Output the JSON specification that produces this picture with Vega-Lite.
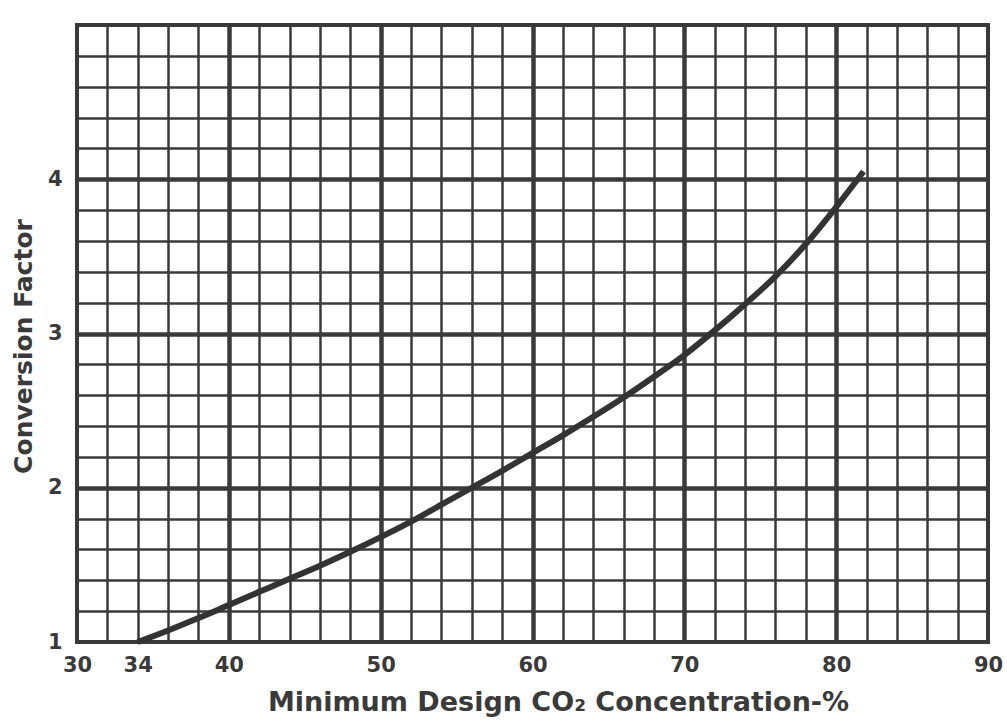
{
  "$schema": "https://vega.github.io/schema/vega-lite/v6.json",
  "width": 911,
  "height": 617,
  "autosize": "none",
  "padding": {"left": 77, "top": 25, "right": 19, "bottom": 80},
  "background": "#ffffff",
  "config": {
    "view": {"stroke": "#3a3a3a", "strokeWidth": 4},
    "axis": {"labelFont": "DejaVu Sans", "titleFont": "DejaVu Sans", "labelColor": "#3a3a3a", "titleColor": "#3a3a3a", "labelOverlap": false, "labelFlush": false, "labelBound": false, "gridColor": "#3a3a3a", "gridOpacity": 1}
  },
  "data": {"values": [
    {"c": 34, "f": 1.0},
    {"c": 36, "f": 1.075},
    {"c": 38, "f": 1.155},
    {"c": 40, "f": 1.24},
    {"c": 42, "f": 1.325},
    {"c": 44, "f": 1.41},
    {"c": 46, "f": 1.495},
    {"c": 48, "f": 1.585},
    {"c": 50, "f": 1.68},
    {"c": 52, "f": 1.78},
    {"c": 54, "f": 1.89},
    {"c": 56, "f": 2.0},
    {"c": 58, "f": 2.11},
    {"c": 60, "f": 2.225},
    {"c": 62, "f": 2.34},
    {"c": 64, "f": 2.46},
    {"c": 66, "f": 2.585},
    {"c": 68, "f": 2.72},
    {"c": 70, "f": 2.86},
    {"c": 72, "f": 3.02},
    {"c": 74, "f": 3.19},
    {"c": 76, "f": 3.37},
    {"c": 78, "f": 3.58},
    {"c": 80, "f": 3.82},
    {"c": 81.8, "f": 4.05}
  ]},
  "layer": [
    {
      "mark": {"type": "line", "opacity": 0},
      "encoding": {
        "x": {"field": "c", "type": "quantitative", "scale": {"domain": [30, 90], "nice": false, "zero": false},
          "axis": {"orient": "bottom", "values": [30,32,34,36,38,40,42,44,46,48,50,52,54,56,58,60,62,64,66,68,70,72,74,76,78,80,82,84,86,88,90],
            "grid": true, "gridWidth": 2.5, "ticks": false, "domain": false,
            "labelExpr": "(datum.value == 34 || datum.value % 10 == 0) ? format(datum.value, 'd') : ''",
            "labelFontSize": 21, "labelFontWeight": "bold", "labelPadding": 12,
            "title": "Minimum Design CO₂ Concentration-%", "titleFontSize": 27, "titleFontWeight": "bold", "titlePadding": 14, "titleX": 481}},
        "y": {"field": "f", "type": "quantitative", "scale": {"domain": [1, 5], "nice": false, "zero": false},
          "axis": {"orient": "left", "values": [1,1.2,1.4,1.6,1.8,2,2.2,2.4,2.6,2.8,3,3.2,3.4,3.6,3.8,4,4.2,4.4,4.6,4.8,5],
            "grid": true, "gridWidth": 2.5, "ticks": false, "domain": false,
            "labelExpr": "(abs(datum.value - round(datum.value)) < 0.01 && datum.value < 4.5) ? format(datum.value, 'd') : ''",
            "labelFontSize": 21, "labelFontWeight": "bold", "labelPadding": 15,
            "title": "Conversion Factor", "titleFontSize": 25, "titleFontWeight": "bold", "titlePadding": 11, "titleY": 321}}
      }
    },
    {
      "mark": {"type": "line", "opacity": 0},
      "encoding": {
        "x": {"field": "c", "type": "quantitative",
          "axis": {"orient": "top", "values": [40, 50, 60, 70, 80], "grid": true, "gridWidth": 4.5, "ticks": false, "domain": false, "labels": false, "title": null}},
        "y": {"field": "f", "type": "quantitative",
          "axis": {"orient": "right", "values": [2, 3, 4], "grid": true, "gridWidth": 4.5, "ticks": false, "domain": false, "labels": false, "title": null}}
      }
    },
    {
      "mark": {"type": "line", "interpolate": "monotone", "color": "#333333", "strokeWidth": 6},
      "encoding": {
        "x": {"field": "c", "type": "quantitative", "axis": null},
        "y": {"field": "f", "type": "quantitative", "axis": null}
      }
    }
  ],
  "resolve": {"axis": {"x": "independent", "y": "independent"}}
}
